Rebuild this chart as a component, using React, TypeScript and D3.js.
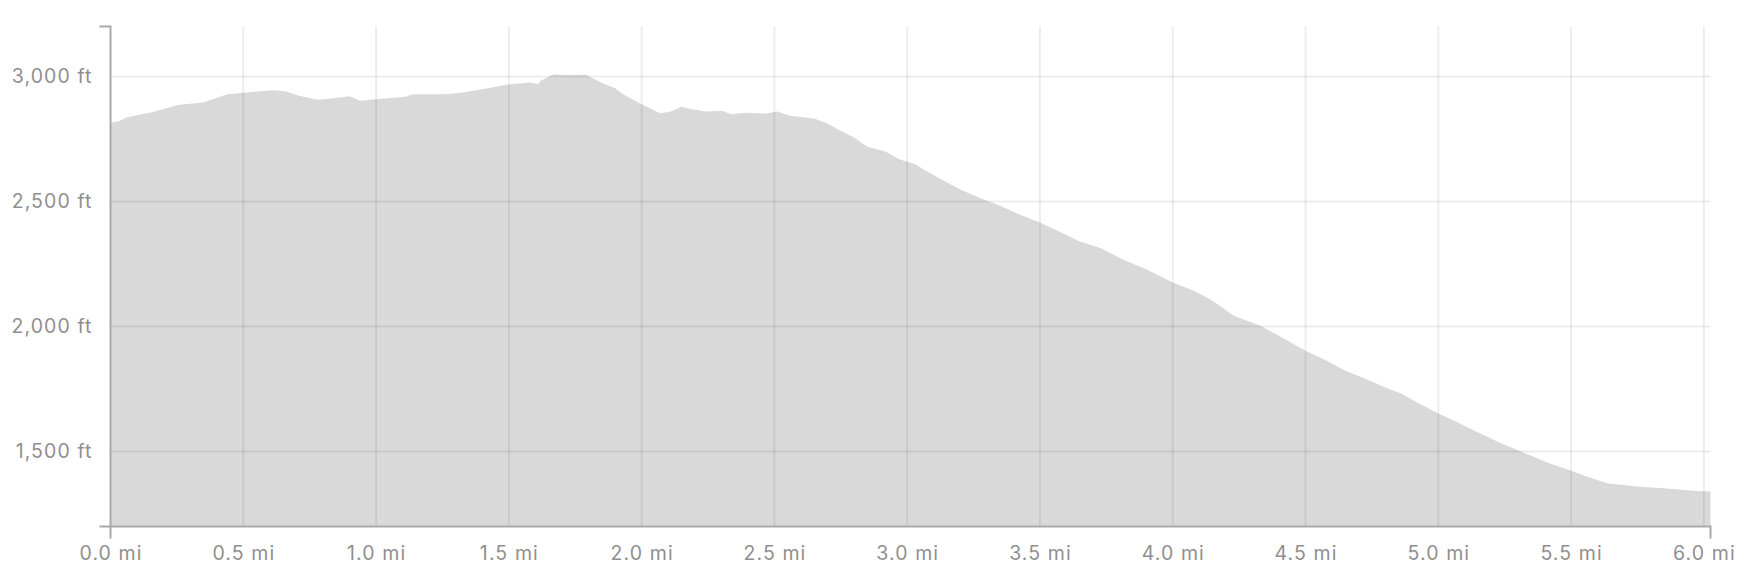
import React from "react";
import * as d3 from "d3";

// Distance along trail (miles)
const distances = [
  0.0, 0.03, 0.06, 0.15, 0.26, 0.35, 0.44, 0.54, 0.62, 0.66, 0.71, 0.78, 0.83, 0.9, 0.94,
  1.0, 1.11, 1.14, 1.26, 1.32, 1.4, 1.49, 1.58, 1.61, 1.62, 1.67, 1.71, 1.79, 1.847, 1.9,
  1.93, 2.0, 2.07, 2.11, 2.15, 2.19, 2.24, 2.3, 2.34, 2.39, 2.47, 2.51, 2.56, 2.65, 2.7,
  2.74, 2.8, 2.85, 2.92, 2.97, 3.03, 3.06, 3.15, 3.21, 3.3, 3.35, 3.42, 3.5, 3.58, 3.65,
  3.73, 3.81, 3.9, 4.0, 4.08, 4.15, 4.23, 4.33, 4.4, 4.5, 4.58, 4.65, 4.73, 4.8, 4.86,
  4.92, 5.0, 5.06, 5.15, 5.23, 5.32, 5.41, 5.5, 5.57, 5.64, 5.69, 5.76, 5.86, 5.96, 6.025,
];

// Elevation (feet)
const elevations = [
  2816, 2820, 2836, 2856, 2887, 2896, 2929, 2939, 2945, 2940, 2923, 2907, 2912, 2921, 2903,
  2909, 2919, 2929, 2929, 2935, 2949, 2967, 2976, 2969, 2983, 3009, 3005, 3007, 2976, 2953,
  2929, 2889, 2853, 2860, 2879, 2869, 2860, 2863, 2849, 2855, 2852, 2860, 2843, 2832, 2812,
  2788, 2756, 2719, 2699, 2669, 2649, 2629, 2576, 2543, 2503, 2483, 2449, 2416, 2376, 2340,
  2313, 2269, 2229, 2176, 2143, 2103, 2043, 2003, 1963, 1903, 1863, 1823, 1789, 1756, 1732,
  1696, 1652, 1623, 1576, 1536, 1496, 1456, 1423, 1396, 1372, 1367, 1359, 1352, 1343, 1340,
];

const xTicks = [0, 0.5, 1, 1.5, 2, 2.5, 3, 3.5, 4, 4.5, 5, 5.5, 6];
const yTicks = [1500, 2000, 2500, 3000];
const xDomain = [0, 6.025];
const yDomain = [1200, 3200];

const W = 1758;
const H = 588;
const left = 110.5;
const right = 1710.5;
const top = 26.5;
const bottom = 526.5;

const FONT = "Inter, 'Noto Sans', sans-serif";
const LABEL = "#8f8f8f";
const AXIS = "#a9a9a9";
const GRID = "rgba(0,0,0,0.07)";
const LS = 1.1;

export default function App() {
  const x = d3.scaleLinear().domain(xDomain).range([left, right]);
  const y = d3.scaleLinear().domain(yDomain).range([bottom, top]);
  const data = distances.map((d, i) => ({ d, e: elevations[i] }));
  const area = d3
    .area<{ d: number; e: number }>()
    .x((p) => x(p.d))
    .y0(y(yDomain[0]))
    .y1((p) => y(p.e))
    .curve(d3.curveLinear);
  const fmt = d3.format(",");

  return (
    <svg
      width={W}
      height={H}
      style={{ position: "absolute", left: 0, top: 0, background: "#fff" }}
      fontFamily={FONT}
    >
      <path d={area(data) || ""} fill="#d9d9d9" />
      {/* grid */}
      {xTicks
        .filter((t) => t > 0)
        .map((t) => (
          <line key={"gx" + t} x1={x(t)} x2={x(t)} y1={top} y2={bottom} stroke={GRID} strokeWidth={2} />
        ))}
      {yTicks.map((t) => (
        <line key={"gy" + t} x1={left} x2={right} y1={y(t)} y2={y(t)} stroke={GRID} strokeWidth={2} />
      ))}
      {/* left axis */}
      <path
        d={`M${left - 11},${top}H${left}V${bottom}H${left - 11}`}
        fill="none"
        stroke={AXIS}
        strokeWidth={2}
      />
      {/* bottom axis */}
      <path
        d={`M${left},${bottom + 12}V${bottom}H${right}V${bottom + 12}`}
        fill="none"
        stroke={AXIS}
        strokeWidth={2}
      />
      {yTicks.map((t) => (
        <text
          key={"ly" + t}
          x={left - 19 + LS}
          y={y(t)}
          dy="0.35em"
          textAnchor="end"
          fontSize={19.5}
          letterSpacing={LS}
          fill={LABEL}
        >
          {fmt(t)} ft
        </text>
      ))}
      {xTicks.map((t) => (
        <text
          key={"lx" + t}
          x={x(t) + LS / 2}
          y={560}
          textAnchor="middle"
          fontSize={19.5}
          letterSpacing={LS}
          fill={LABEL}
        >
          {t.toFixed(1)} mi
        </text>
      ))}
    </svg>
  );
}
